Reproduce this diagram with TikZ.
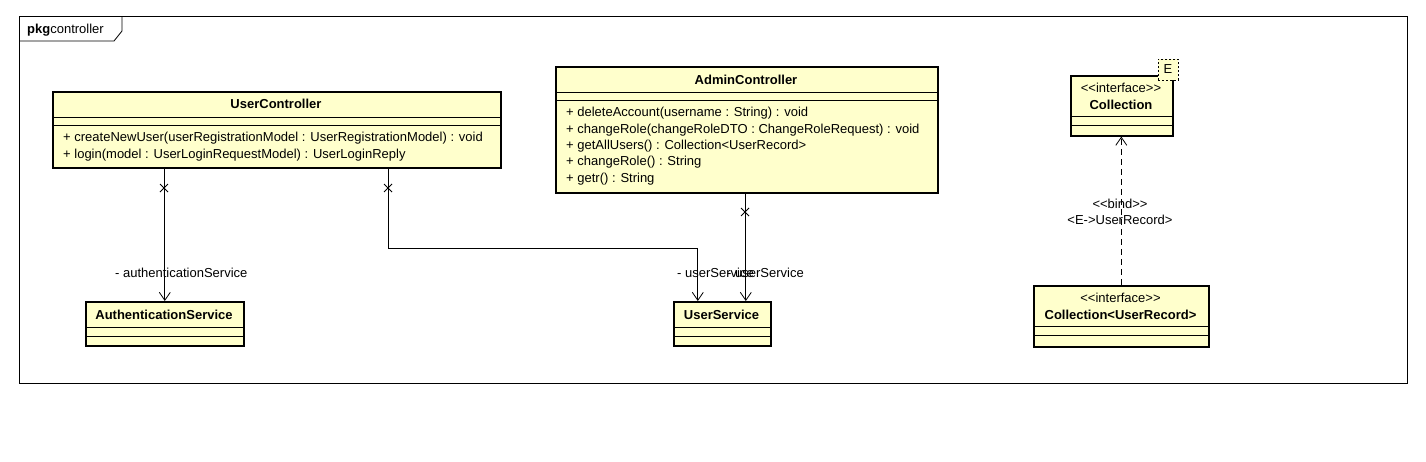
\documentclass[tikz,border=0pt]{standalone}
\usepackage{fontspec}
\setmainfont{Liberation Sans}
\usetikzlibrary{arrows.meta,calc}
\definecolor{umlfill}{RGB}{255,255,204}
\tikzset{
  cls/.style={draw=black, line width=1.6pt, fill=umlfill, inner sep=0pt, anchor=north west},
  sep/.style={draw=black, line width=0.8pt},
  ttl/.style={font=\fontsize{13pt}{15pt}\selectfont\bfseries, inner sep=0pt},
  stereo/.style={font=\fontsize{13pt}{15pt}\selectfont, inner sep=0pt},
  op/.style={font=\fontsize{13pt}{15pt}\selectfont, inner sep=0pt, anchor=west},
  lbl/.style={font=\fontsize{13pt}{15pt}\selectfont, inner sep=0pt, anchor=west},
  assoc/.style={draw=black, line width=0.8pt, -{Straight Barb[length=8pt,width=11pt,line width=0.8pt]}},
  bind/.style={draw=black, line width=0.8pt, dash pattern=on 6pt off 4pt, -{Straight Barb[length=8pt,width=11pt,line width=0.8pt]}},
  xm/.style={draw=black, line width=0.8pt},
}
\begin{document}
\begin{tikzpicture}[x=1pt,y=-1pt]
\useasboundingbox[fill=white] (0,0) rectangle (1426,461);
% package frame
\draw[line width=0.8pt] (19,16) rectangle (1407,383);
\draw[line width=0.8pt] (19,41) -- (114,41) -- (122,31) -- (122,16);
\node[font=\fontsize{13pt}{15pt}\selectfont, inner sep=0pt, anchor=west] (pkg) at (27,30) {\textbf{pkg}controller};

% UserController
\node[cls, minimum width=448pt, minimum height=76pt] (uc) at (52,91) {};
\node[ttl] (uct) at (276,104) {UserController};
\draw[sep] (52,117) -- (500,117);
\draw[sep] (52,125) -- (500,125);
\node[op] (uc1) at (63,138) {+ createNewUser(userRegistrationModel : UserRegistrationModel) : void};
\node[op] (uc2) at (63,155) {+ login(model : UserLoginRequestModel) : UserLoginReply};

% AdminController
\node[cls, minimum width=382pt, minimum height=126pt] (ac) at (555,66) {};
\node[ttl] (act) at (746,80) {AdminController};
\draw[sep] (555,92) -- (937,92);
\draw[sep] (555,100) -- (937,100);
\node[op] (ac1) at (566,113) {+ deleteAccount(username : String) : void};
\node[op] (ac2) at (566,130) {+ changeRole(changeRoleDTO : ChangeRoleRequest) : void};
\node[op] (ac3) at (566,146) {+ getAllUsers() : Collection<UserRecord>};
\node[op] (ac4) at (566,162) {+ changeRole() : String};
\node[op] (ac5) at (566,179) {+ getr() : String};

% Collection
\node[cls, minimum width=102pt, minimum height=60pt] (col) at (1070,75) {};
\node[stereo] (cols) at (1121,88) {<{}<interface>{}>};
\node[ttl] (colt) at (1121,105) {Collection};
\draw[sep] (1070,116) -- (1172,116);
\draw[sep] (1070,125) -- (1172,125);
\node[draw=black, line width=0.8pt, dash pattern=on 2pt off 2pt, fill=umlfill, minimum width=20pt, minimum height=21pt, inner sep=0pt, anchor=north west] (eb) at (1158,59) {};
\node[stereo] (ebt) at (1168,69.5) {E};

% Collection<UserRecord>
\node[cls, minimum width=175pt, minimum height=61pt] (cur) at (1033,285) {};
\node[stereo] (curs) at (1120.5,298) {<{}<interface>{}>};
\node[ttl] (curt) at (1120.5,315) {Collection<UserRecord>};
\draw[sep] (1033,326) -- (1208,326);
\draw[sep] (1033,335) -- (1208,335);

% AuthenticationService
\node[cls, minimum width=158pt, minimum height=44pt] (as) at (85,301) {};
\node[ttl] (ast) at (164,315) {AuthenticationService};
\draw[sep] (85,327) -- (243,327);
\draw[sep] (85,336) -- (243,336);

% UserService
\node[cls, minimum width=97pt, minimum height=44pt] (us) at (673,301) {};
\node[ttl] (ust) at (721.5,315) {UserService};
\draw[sep] (673,327) -- (770,327);
\draw[sep] (673,336) -- (770,336);

% connectors
\draw[assoc] (as.north |- uc.south) -- (as.north);
\draw[assoc] ([xshift=112pt]uc.south) -- ++(0,80) -| ([xshift=-24.5pt]us.north);
\draw[assoc] ([xshift=-1pt]ac.south) -- ([xshift=23.5pt]us.north);
\draw[bind] (cur.north) -- ([xshift=-0.5pt]col.south);

% navigability x marks
\draw[xm] (160,184) -- (168,192) (160,192) -- (168,184);
\draw[xm] (384,184) -- (392,192) (384,192) -- (392,184);
\draw[xm] (741,208) -- (749,216) (741,216) -- (749,208);

% labels
\node[lbl] (l1) at (115,273) {- authenticationService};
\node[lbl] (l2) at (677,273) {- userService};
\node[lbl] (l3) at (727,273) {- userService};
\node[stereo] (b1) at (1120,204) {<{}<bind>{}>};
\node[stereo] (b2) at (1120,220) {<E->UserRecord>};
\end{tikzpicture}
\end{document}
